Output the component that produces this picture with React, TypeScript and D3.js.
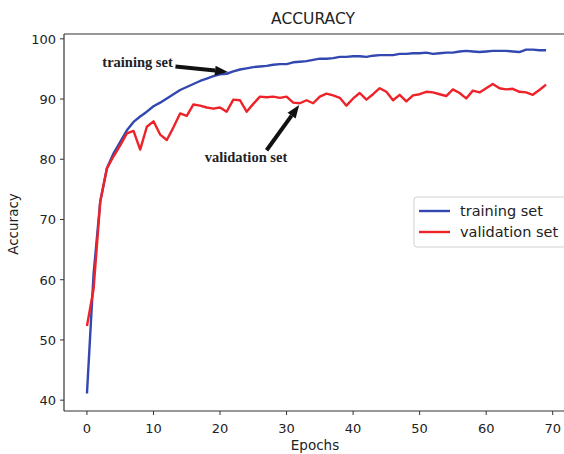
import React from 'react';
import * as d3 from 'd3';

const epochs = d3.range(0, 70);

const trainingAcc = [
  41.1, 61.0, 73.0, 78.5, 81.0, 82.9, 84.8, 86.2, 87.1, 87.9,
  88.8, 89.4, 90.1, 90.8, 91.5, 92.0, 92.5, 93.0, 93.4, 93.8,
  94.1, 94.2, 94.6, 94.9, 95.1, 95.3, 95.4, 95.5, 95.7, 95.8,
  95.8, 96.1, 96.2, 96.3, 96.5, 96.7, 96.7, 96.8, 97.0, 97.0,
  97.1, 97.1, 97.0, 97.2, 97.3, 97.3, 97.3, 97.5, 97.5, 97.6,
  97.6, 97.7, 97.5, 97.6, 97.7, 97.7, 97.9, 98.0, 97.9, 97.8,
  97.9, 98.0, 98.0, 98.0, 97.9, 97.8, 98.2, 98.2, 98.1, 98.1,
];

const validationAcc = [
  52.3, 58.5, 73.0, 78.5, 80.5, 82.3, 84.3, 84.7, 81.6, 85.4,
  86.3, 84.1, 83.2, 85.3, 87.6, 87.2, 89.1, 88.9, 88.6, 88.4,
  88.6, 87.9, 89.9, 89.8, 87.9, 89.2, 90.4, 90.3, 90.4, 90.2,
  90.4, 89.4, 89.3, 89.8, 89.3, 90.4, 90.9, 90.6, 90.2, 88.9,
  90.1, 91.0, 89.9, 90.8, 91.8, 91.2, 89.8, 90.7, 89.6, 90.6,
  90.8, 91.2, 91.1, 90.8, 90.5, 91.6, 91.0, 90.1, 91.4, 91.1,
  91.8, 92.5, 91.8, 91.6, 91.7, 91.2, 91.1, 90.7, 91.5, 92.4,
];

const xTicks = [0, 10, 20, 30, 40, 50, 60, 70];
const yTicks = [40, 50, 60, 70, 80, 90, 100];

const seriesNames = ['training set', 'validation set'];
const seriesColors = ['#3347b0', '#ee2229'];

// annotation anchors, in data units (epoch, accuracy)
const trainNote = { text: 'training set', textAt: [12.9, 95.3], tail: [13.3, 95.4], tip: [21.2, 94.5] };
const validNote = { text: 'validation set', textAt: [23.9, 79.6], tail: [27.0, 81.5], tip: [31.9, 89.0] };

const W = 564;
const H = 454;
const margin = { top: 34, right: -5, bottom: 43, left: 64 };

function Arrow({ x1, y1, x2, y2 }: { x1: number; y1: number; x2: number; y2: number }) {
  const ang = Math.atan2(y2 - y1, x2 - x1);
  const headLen = 13;
  const headW = 5;
  const bx = x2 - headLen * Math.cos(ang);
  const by = y2 - headLen * Math.sin(ang);
  const px = -Math.sin(ang) * headW;
  const py = Math.cos(ang) * headW;
  return (
    <g>
      <line x1={x1} y1={y1} x2={bx} y2={by} stroke="#111" strokeWidth={4} />
      <path d={`M${x2},${y2}L${bx + px},${by + py}L${bx - px},${by - py}Z`} fill="#111" />
    </g>
  );
}

export default function App() {
  const x = d3.scaleLinear().domain([-3.45, 72.45]).range([margin.left, W - margin.right]);
  const y = d3.scaleLinear().domain([38.2, 100.8]).range([H - margin.bottom, margin.top]);

  const line = d3.line<number>()
    .x((_, i) => x(epochs[i]))
    .y(d => y(d));

  const font = 'DejaVu Sans, sans-serif';
  const serif = 'Liberation Serif, serif';
  const bottom = H - margin.bottom;

  return (
    <svg width={W} height={H} style={{ position: 'absolute', left: 0, top: 0, background: '#fff' }}>
      <text x={313} y={24} textAnchor="middle" fontFamily={font} fontSize={15.5} fill="#222">
        ACCURACY
      </text>

      {/* data lines */}
      <path d={line(trainingAcc) || ''} fill="none" stroke={seriesColors[0]} strokeWidth={2.4} strokeLinejoin="round" />
      <path d={line(validationAcc) || ''} fill="none" stroke={seriesColors[1]} strokeWidth={2.4} strokeLinejoin="round" />

      {/* spines */}
      <g stroke="#333" strokeWidth={1.2} fill="none">
        <line x1={margin.left} y1={margin.top} x2={margin.left} y2={bottom} />
        <line x1={margin.left} y1={margin.top} x2={W} y2={margin.top} />
        <line x1={margin.left} y1={bottom} x2={W} y2={bottom} />
      </g>

      {/* x axis */}
      {xTicks.map(t => (
        <g key={'x' + t}>
          <line x1={x(t)} x2={x(t)} y1={bottom} y2={bottom + 4} stroke="#333" strokeWidth={1} />
          <text x={x(t)} y={bottom + 22} textAnchor="middle" fontFamily={font} fontSize={13} fill="#222">{t}</text>
        </g>
      ))}
      <text x={315} y={450} textAnchor="middle" fontFamily={font} fontSize={13.5} fill="#222">Epochs</text>

      {/* y axis */}
      {yTicks.map(t => (
        <g key={'y' + t}>
          <line x1={margin.left - 4} x2={margin.left} y1={y(t)} y2={y(t)} stroke="#333" strokeWidth={1} />
          <text x={margin.left - 8} y={y(t) + 5} textAnchor="end" fontFamily={font} fontSize={13} fill="#222">{t}</text>
        </g>
      ))}
      <text transform={`translate(18,224) rotate(-90)`} textAnchor="middle" fontFamily={font} fontSize={13.5} fill="#222">
        Accuracy
      </text>

      {/* legend */}
      <rect x={414} y={197} width={152} height={50} rx={3} fill="#fff" stroke="#d0d0d0" strokeWidth={1} />
      {seriesNames.map((name, i) => (
        <g key={name}>
          <line x1={419} x2={450} y1={211 + i * 21} y2={211 + i * 21} stroke={seriesColors[i]} strokeWidth={2.4} />
          <text x={460} y={216 + i * 21} fontFamily={font} fontSize={14.5} fill="#222">{name}</text>
        </g>
      ))}

      {/* annotations */}
      <text x={x(trainNote.textAt[0])} y={y(trainNote.textAt[1])} textAnchor="end" fontFamily={serif} fontWeight="bold" fontSize={14.5} fill="#222">
        {trainNote.text}
      </text>
      <Arrow x1={x(trainNote.tail[0])} y1={y(trainNote.tail[1])} x2={x(trainNote.tip[0])} y2={y(trainNote.tip[1])} />
      <text x={x(validNote.textAt[0])} y={y(validNote.textAt[1])} textAnchor="middle" fontFamily={serif} fontWeight="bold" fontSize={14.5} fill="#222">
        {validNote.text}
      </text>
      <Arrow x1={x(validNote.tail[0])} y1={y(validNote.tail[1])} x2={x(validNote.tip[0])} y2={y(validNote.tip[1])} />
    </svg>
  );
}
